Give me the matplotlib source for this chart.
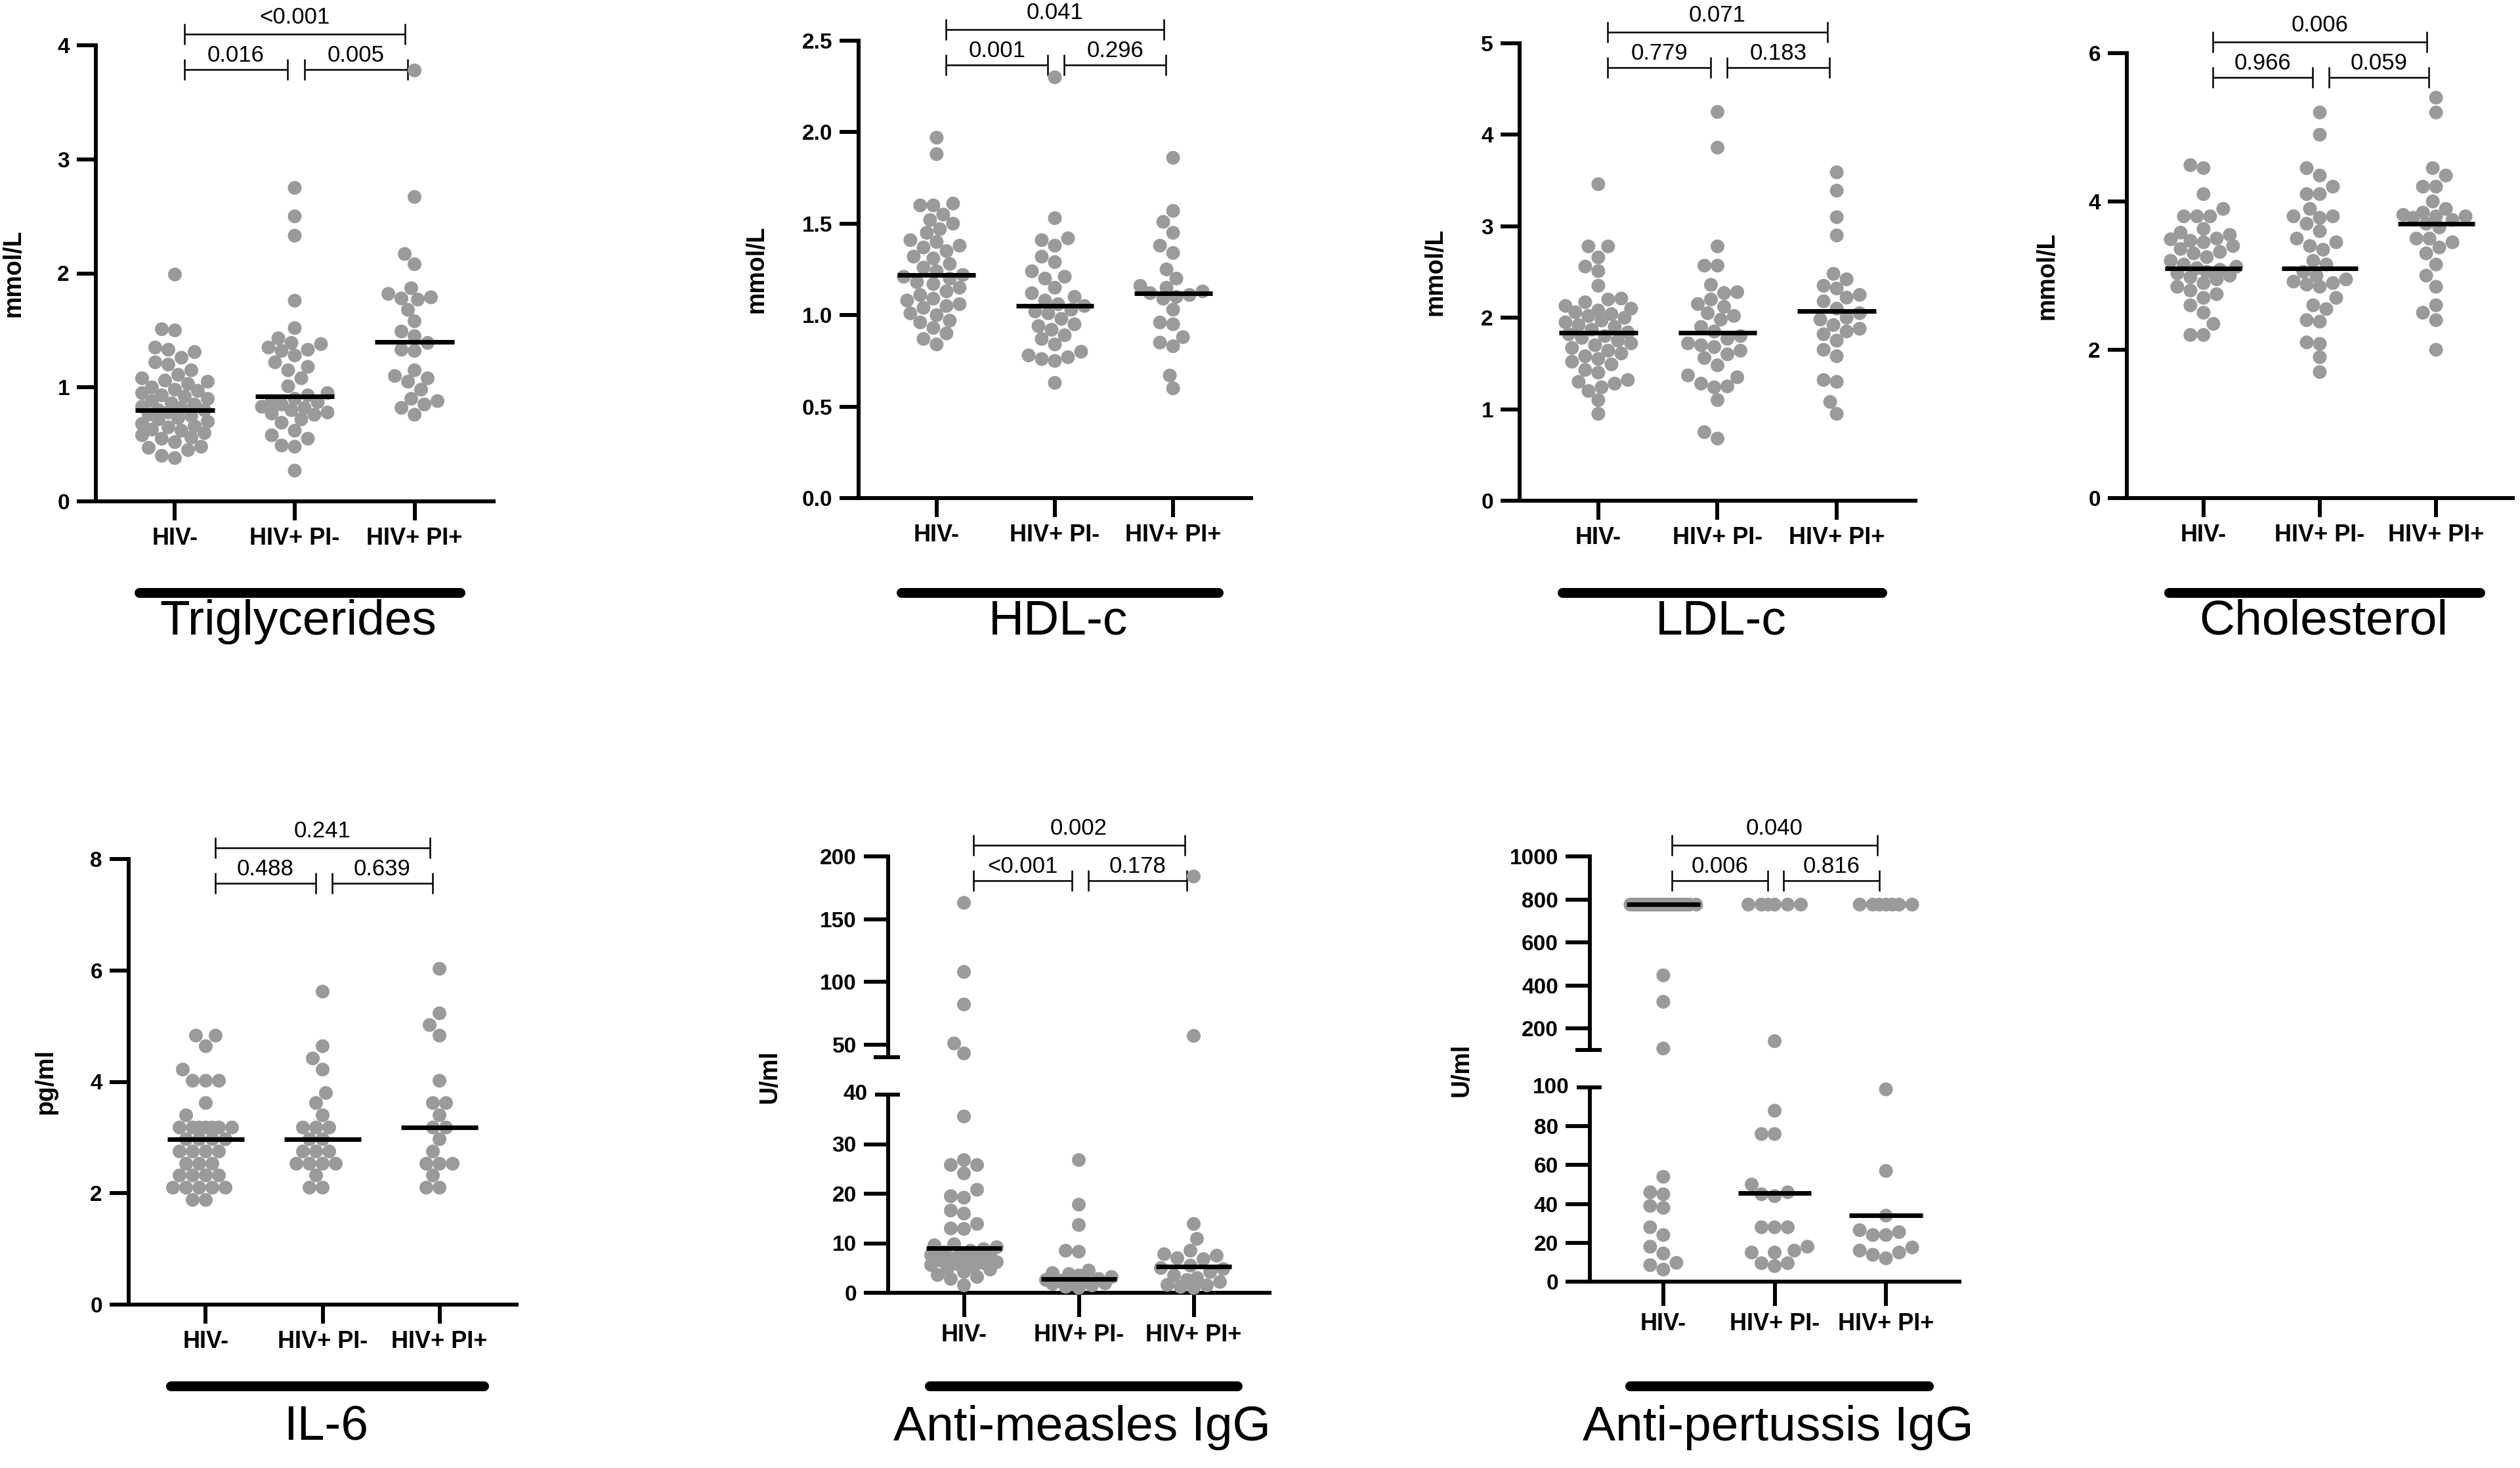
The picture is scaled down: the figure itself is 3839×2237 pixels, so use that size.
import numpy as np
import matplotlib
matplotlib.use('Agg')
import matplotlib.pyplot as plt
from matplotlib.transforms import blended_transform_factory

plt.rcParams['font.family'] = ['Liberation Sans', 'DejaVu Sans']

W, H = 3839, 2237
DOT = '#9a9a9a'

groups = ['HIV-', 'HIV+ PI-', 'HIV+ PI+']

# Triglycerides (mmol/L)
tg_neg = [1.99, 1.51, 1.50, 1.35, 1.33, 1.31, 1.26, 1.22, 1.20, 1.15, 1.11, 1.08, 1.06, 1.05, 1.03,
          1.00, 0.98, 0.97, 0.95, 0.93, 0.92, 0.90, 0.88, 0.86, 0.85, 0.83, 0.82, 0.80, 0.80, 0.78,
          0.76, 0.75, 0.73, 0.72, 0.70, 0.68, 0.66, 0.65, 0.63, 0.62, 0.60, 0.58, 0.56, 0.55, 0.52,
          0.48, 0.47, 0.45, 0.40, 0.38]
tg_pim = [2.75, 2.50, 2.33, 1.76, 1.52, 1.43, 1.39, 1.38, 1.35, 1.33, 1.32, 1.28, 1.22, 1.18, 1.15,
          1.08, 1.01, 0.95, 0.93, 0.90, 0.88, 0.87, 0.85, 0.83, 0.82, 0.80, 0.78, 0.77, 0.76, 0.72,
          0.69, 0.62, 0.58, 0.55, 0.49, 0.48, 0.27]
tg_pip = [3.78, 2.67, 2.17, 2.08, 1.87, 1.82, 1.79, 1.78, 1.77, 1.68, 1.58, 1.49, 1.45, 1.39, 1.33,
          1.32, 1.15, 1.10, 1.08, 1.05, 0.98, 0.90, 0.88, 0.85, 0.82, 0.76]
tg_med = [0.80, 0.92, 1.40]
tg_p = ['<0.001', '0.016', '0.005']

# HDL-c (mmol/L)
hdl_neg = [1.97, 1.88, 1.61, 1.60, 1.60, 1.55, 1.52, 1.50, 1.47, 1.45, 1.41, 1.40, 1.38, 1.37, 1.35,
           1.32, 1.31, 1.28, 1.26, 1.24, 1.22, 1.21, 1.20, 1.18, 1.17, 1.15, 1.13, 1.11, 1.09, 1.08,
           1.06, 1.05, 1.04, 1.01, 1.00, 0.97, 0.96, 0.93, 0.90, 0.87, 0.84]
hdl_pim = [2.30, 1.53, 1.42, 1.41, 1.38, 1.32, 1.29, 1.24, 1.21, 1.20, 1.15, 1.12, 1.10, 1.08, 1.06,
           1.05, 1.03, 1.02, 1.01, 0.98, 0.95, 0.94, 0.92, 0.89, 0.87, 0.84, 0.80, 0.78, 0.77, 0.76,
           0.75, 0.63]
hdl_pip = [1.86, 1.57, 1.51, 1.45, 1.38, 1.34, 1.25, 1.20, 1.16, 1.15, 1.13, 1.12, 1.11, 1.10, 1.09,
           1.03, 0.96, 0.95, 0.88, 0.85, 0.83, 0.67, 0.60]
hdl_med = [1.22, 1.05, 1.12]
hdl_p = ['0.041', '0.001', '0.296']

# LDL-c (mmol/L)
ldl_neg = [3.46, 2.78, 2.78, 2.66, 2.56, 2.51, 2.35, 2.21, 2.20, 2.17, 2.13, 2.10, 2.08, 2.06, 2.04,
           2.02, 2.00, 1.97, 1.95, 1.92, 1.90, 1.87, 1.84, 1.82, 1.80, 1.78, 1.75, 1.72, 1.70, 1.67,
           1.64, 1.61, 1.58, 1.55, 1.52, 1.49, 1.43, 1.40, 1.32, 1.30, 1.28, 1.24, 1.20, 1.10, 0.95]
ldl_pim = [4.25, 3.86, 2.78, 2.57, 2.57, 2.36, 2.28, 2.27, 2.20, 2.15, 2.12, 2.05, 2.02, 1.98, 1.90,
           1.85, 1.80, 1.77, 1.72, 1.70, 1.68, 1.64, 1.60, 1.56, 1.48, 1.37, 1.35, 1.28, 1.25, 1.24,
           1.10, 0.75, 0.68]
ldl_pip = [3.59, 3.39, 3.10, 2.90, 2.48, 2.42, 2.35, 2.32, 2.25, 2.22, 2.18, 2.10, 2.05, 2.00, 1.98,
           1.92, 1.88, 1.85, 1.82, 1.75, 1.65, 1.58, 1.32, 1.30, 1.08, 0.95]
ldl_med = [1.84, 1.84, 2.07]
ldl_p = ['0.071', '0.779', '0.183']

# Cholesterol (mmol/L)
chol_neg = [4.49, 4.45, 4.10, 3.90, 3.80, 3.80, 3.80, 3.63, 3.58, 3.55, 3.50, 3.49, 3.47, 3.45, 3.40,
            3.36, 3.32, 3.30, 3.25, 3.20, 3.15, 3.12, 3.10, 3.08, 3.05, 3.03, 3.00, 2.98, 2.95, 2.90,
            2.85, 2.80, 2.75, 2.70, 2.60, 2.50, 2.35, 2.20, 2.20]
chol_pim = [5.20, 4.90, 4.45, 4.35, 4.20, 4.10, 4.10, 3.90, 3.80, 3.78, 3.80, 3.70, 3.60, 3.50, 3.45,
            3.40, 3.35, 3.20, 3.15, 3.05, 3.00, 2.95, 2.92, 2.90, 2.88, 2.85, 2.70, 2.60, 2.55, 2.40,
            2.38, 2.10, 2.08, 1.90, 1.70]
chol_pip = [5.40, 5.20, 4.45, 4.35, 4.20, 4.20, 4.00, 3.90, 3.85, 3.82, 3.80, 3.80, 3.78, 3.75, 3.70,
            3.65, 3.50, 3.50, 3.45, 3.38, 3.30, 3.15, 3.00, 2.85, 2.60, 2.50, 2.40, 2.00]
chol_med = [3.10, 3.10, 3.70]
chol_p = ['0.006', '0.966', '0.059']

# IL-6 (pg/ml)
il6_neg = [4.83, 4.83, 4.64, 4.22, 4.02, 4.02, 4.02, 3.62, 3.40, 3.18, 3.18, 3.18, 3.18, 3.18, 3.18,
           3.18, 2.97, 2.97, 2.97, 2.97, 2.75, 2.75, 2.75, 2.75, 2.53, 2.53, 2.53, 2.32, 2.32, 2.32,
           2.32, 2.10, 2.10, 2.10, 2.10, 2.10, 1.88, 1.88]
il6_pim = [5.62, 4.64, 4.42, 4.22, 3.80, 3.62, 3.40, 3.18, 3.18, 3.18, 2.97, 2.97, 2.75, 2.75, 2.75,
           2.53, 2.53, 2.53, 2.53, 2.32, 2.10, 2.10]
il6_pip = [6.03, 5.23, 5.02, 4.83, 4.02, 3.62, 3.62, 3.40, 3.18, 3.18, 2.97, 2.75, 2.53, 2.53, 2.53,
           2.32, 2.10, 2.10]
il6_med = [2.97, 2.97, 3.18]
il6_p = ['0.241', '0.488', '0.639']

# Anti-measles IgG (U/ml)
mea_neg = [163, 108, 82, 51, 43, 35.6, 26.8, 25.8, 25.8, 24.1, 20.8, 19.5, 19.2, 16.6, 16.0, 13.9,
           13.0, 12.9, 9.8, 9.6, 9.2, 8.8, 8.5, 8.2, 8.0, 7.8, 7.6, 7.3, 7.0, 6.8, 6.5, 6.2, 6.0,
           5.8, 5.6, 5.3, 4.9, 4.7, 4.2, 3.6, 3.2, 2.8, 1.5]
mea_pim = [26.8, 17.8, 13.7, 8.5, 8.3, 4.5, 4.0, 3.8, 3.5, 3.2, 2.8, 2.6, 2.5, 2.2, 2.0, 1.9, 1.8,
           1.5, 1.2, 1.0]
mea_pip = [184, 57, 13.9, 10.9, 8.5, 7.8, 7.5, 7.0, 6.8, 5.5, 5.0, 4.8, 4.2, 3.5, 3.0, 2.6, 2.2,
           1.6, 1.5, 1.2, 1.0]
mea_med = [9.0, 2.8, 5.3]
mea_p = ['0.002', '<0.001', '0.178']

# Anti-pertussis IgG (U/ml)
per_neg = [776, 776, 776, 776, 776, 776, 776, 776, 776, 776, 776, 776, 776, 776, 776, 776, 776, 776,
           776, 776, 447, 324, 107, 54, 46, 45, 39, 38, 28, 24, 18, 14.5, 9.7, 8.5, 6.2]
per_pim = [776, 776, 776, 776, 776, 776, 141, 88, 76, 76, 50, 46, 45, 44, 28, 28, 28, 18, 16, 15,
           15, 9.5, 9.5, 8]
per_pip = [776, 776, 776, 776, 776, 776, 776, 99, 57, 34, 26.5, 25.5, 24, 24, 17.6, 16, 15, 13.8, 12]
per_med = [776, 45.5, 34]
per_p = ['0.040', '0.006', '0.816']

PANELS = [
    dict(data=[tg_neg, tg_pim, tg_pip], med=tg_med, p=tg_p, title='Triglycerides', ylabel='mmol/L',
         yticks=[0, 1, 2, 3, 4], ylabs=['0', '1', '2', '3', '4']),
    dict(data=[hdl_neg, hdl_pim, hdl_pip], med=hdl_med, p=hdl_p, title='HDL-c', ylabel='mmol/L',
         yticks=[0, 0.5, 1.0, 1.5, 2.0, 2.5], ylabs=['0.0', '0.5', '1.0', '1.5', '2.0', '2.5']),
    dict(data=[ldl_neg, ldl_pim, ldl_pip], med=ldl_med, p=ldl_p, title='LDL-c', ylabel='mmol/L',
         yticks=[0, 1, 2, 3, 4, 5], ylabs=['0', '1', '2', '3', '4', '5']),
    dict(data=[chol_neg, chol_pim, chol_pip], med=chol_med, p=chol_p, title='Cholesterol', ylabel='mmol/L',
         yticks=[0, 2, 4, 6], ylabs=['0', '2', '4', '6']),
    dict(data=[il6_neg, il6_pim, il6_pip], med=il6_med, p=il6_p, title='IL-6', ylabel='pg/ml',
         yticks=[0, 2, 4, 6, 8], ylabs=['0', '2', '4', '6', '8']),
    dict(data=[mea_neg, mea_pim, mea_pip], med=mea_med, p=mea_p, title='Anti-measles IgG', ylabel='U/ml',
         split=40, top=200, yticks_top=[50, 100, 150, 200], yticks=[0, 10, 20, 30]),
    dict(data=[per_neg, per_pim, per_pip], med=per_med, p=per_p, title='Anti-pertussis IgG', ylabel='U/ml',
         split=100, top=1000, yticks_top=[200, 400, 600, 800, 1000], yticks=[0, 20, 40, 60, 80]),
]

# layout in output pixels: x spine/right, y ranges, ylabel centre, bar/title rows, tick length
LAYOUT = [
    dict(x=(146, 752), y=(69, 764), lab=(21, 416), bar=903, tit=947, tick=29),
    dict(x=(1308, 1906), y=(62, 759), lab=(1153, 410), bar=903, tit=947, tick=29),
    dict(x=(2315, 2918), y=(66, 763), lab=(2186, 414), bar=903, tit=947, tick=29),
    dict(x=(3240, 3828), y=(81, 759), lab=(3119, 420), bar=903, tit=947, tick=29),
    dict(x=(196, 787), y=(1309, 1988), lab=(70, 1648), bar=2112, tit=2175, tick=29),
    dict(x=(1353, 1934), y=((1305, 1611), (1668, 1970)), lab=(1173, 1640), bar=2112, tit=2175, tick=37),
    dict(x=(2422, 2985), y=((1305, 1600), (1657, 1953)), lab=(2227, 1630), bar=2112, tit=2175, tick=37),
]

DOT_PX = 21.0

fig = plt.figure(figsize=(W / 100, H / 100), dpi=100)


def add_px_axes(x0, x1, ytop, ybot, ticklen):
    ax = fig.add_axes([x0 / W, 1 - ybot / H, (x1 - x0) / W, (ybot - ytop) / H])
    ax.set_xlim(-0.66, 2.66)
    ax.patch.set_alpha(0)
    for s in ['top', 'right']:
        ax.spines[s].set_visible(False)
    for s in ['left', 'bottom']:
        ax.spines[s].set_linewidth(4.3)
    ax.tick_params(length=ticklen * 0.72, width=4.3, color='black')
    ax.tick_params(axis='y', pad=8)
    ax.tick_params(axis='x', pad=7)
    return ax


def swarm_offsets(ypx, d=DOT_PX, wmax=50.0):
    ypx = np.asarray(ypx, float)
    xs = np.zeros(len(ypx))
    cands = np.linspace(-wmax, wmax, 21)
    cands = cands[np.argsort(np.abs(cands), kind='stable')]
    px, py = [], []
    for i in np.argsort(ypx, kind='stable'):
        y = ypx[i]
        if px:
            d2 = (cands[:, None] - np.array(px)[None, :]) ** 2 + (y - np.array(py)[None, :]) ** 2
            mind = d2.min(axis=1)
            ok = np.where(mind >= (0.95 * d) ** 2)[0]
            c = cands[ok[0]] if len(ok) else cands[np.argmax(mind)]
        else:
            c = 0.0
        xs[i] = c
        px.append(c)
        py.append(y)
    return xs


def cap_line(ax, yval, left_px, right_px, ticklw=4.3):
    tr = blended_transform_factory(ax.transAxes, ax.transData)
    wpx = ax.bbox.width
    ax.plot([-left_px / wpx, right_px / wpx], [yval, yval], transform=tr, color='black',
            lw=ticklw, solid_capstyle='butt', clip_on=False)


def draw_panel(spec, lay):
    x0, x1 = lay['x']
    if 'split' in spec:
        (tt, tb), (bt, bb) = lay['y']
        ax_top = add_px_axes(x0, x1, tt, tb, lay['tick'])
        ax_bot = add_px_axes(x0, x1, bt, bb, lay['tick'])
        split = spec['split']
        ax_top.set_ylim(split, spec['top'])
        ax_top.set_yticks(spec['yticks_top'])
        ax_top.set_yticklabels([str(v) for v in spec['yticks_top']], fontsize=24, fontweight='bold')
        ax_top.spines['bottom'].set_visible(False)
        ax_top.set_xticks([])
        ax_bot.set_ylim(0, split)
        ax_bot.set_yticks(spec['yticks'])
        ax_bot.set_yticklabels([str(v) for v in spec['yticks']], fontsize=24, fontweight='bold')
        cap_line(ax_top, split, 22, 18)
        cap_line(ax_bot, split, 20, 18)
        trl = blended_transform_factory(ax_bot.transAxes, ax_bot.transData)
        ax_bot.text(-(20 + 11) / ax_bot.bbox.width, split, str(split), transform=trl, ha='right',
                    va='center', fontsize=24, fontweight='bold')
        ax_for = lambda v: ax_top if v >= split else ax_bot
    else:
        ax_top = ax_bot = add_px_axes(x0, x1, lay['y'][0], lay['y'][1], lay['tick'])
        ax_bot.set_ylim(spec['yticks'][0], spec['yticks'][-1])
        ax_bot.set_yticks(spec['yticks'])
        ax_bot.set_yticklabels(spec['ylabs'], fontsize=24, fontweight='bold')
        ax_for = lambda v: ax_bot

    ax_bot.set_xticks([0, 1, 2])
    ax_bot.set_xticklabels(groups, fontsize=26, fontweight='bold')

    ppu = ax_bot.bbox.width / 3.32
    msize = (DOT_PX * 0.72) ** 2
    for g, vals in enumerate(spec['data']):
        vals = np.asarray(vals, float)
        owners = [ax_for(v) for v in vals]
        ypx = [a.transData.transform((0, v))[1] for a, v in zip(owners, vals)]
        off = swarm_offsets(ypx) / ppu
        for a in {id(o): o for o in owners}.values():
            m = np.array([o is a for o in owners])
            a.scatter(g + off[m], vals[m], s=msize, color=DOT, edgecolors='none', zorder=3, clip_on=False)
        m_ax = ax_for(spec['med'][g])
        m_ax.hlines(spec['med'][g], g - 0.33, g + 0.33, color='black', lw=5, zorder=4)

    # significance brackets above the plot
    hpx = ax_top.bbox.height
    tr = blended_transform_factory(ax_top.transData, ax_top.transAxes)
    cap = 16 / hpx
    brackets = [((0.08, 1.92), 17, 33), ((0.08, 0.94), -37, -25), ((1.08, 1.94), -37, -25)]
    for (bx0, bx1), dy, ty in brackets:
        yb = 1 + dy / hpx
        for xs, ys in [([bx0, bx1], [yb, yb]), ([bx0, bx0], [yb - cap, yb + cap]), ([bx1, bx1], [yb - cap, yb + cap])]:
            ax_top.plot(xs, ys, transform=tr, color='black', lw=1.8, clip_on=False, solid_capstyle='butt')
    for ((bx0, bx1), dy, ty), txt in zip(brackets, spec['p']):
        ax_top.text((bx0 + bx1) / 2, 1 + ty / hpx, txt, transform=tr, ha='center', va='baseline', fontsize=25)

    # group bar and title under the panel
    trb = blended_transform_factory(ax_bot.transData, fig.transFigure)
    ax_bot.plot([-0.3, 2.38], [1 - lay['bar'] / H] * 2, transform=trb, color='black', lw=10.8,
                solid_capstyle='round', clip_on=False)
    ax_bot.text(1.03, 1 - lay['tit'] / H, spec['title'], transform=trb, ha='center', va='center', fontsize=54)

    fig.text(lay['lab'][0] / W, 1 - lay['lab'][1] / H, spec['ylabel'], rotation=90, ha='center',
             va='center', fontsize=27, fontweight='bold')


for spec, lay in zip(PANELS, LAYOUT):
    draw_panel(spec, lay)

fig.savefig('out.png', dpi=100, facecolor='white')
